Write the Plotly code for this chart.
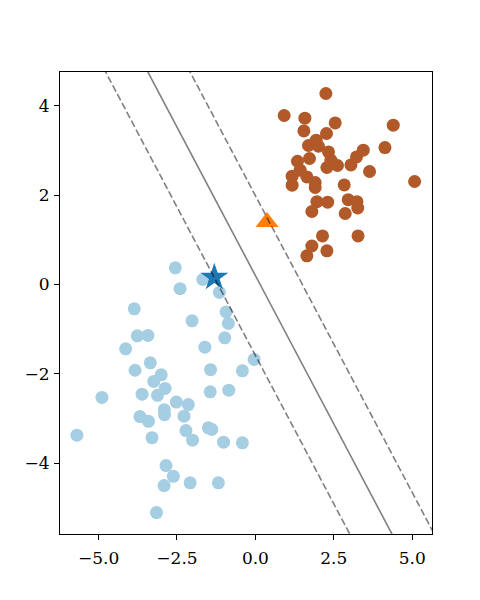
import plotly.graph_objects as go
import numpy as np

# class 0 (light blue) points
blue_x = [-2.553, -1.679, -2.403, -3.862, -2.020, -3.766, -3.428, -4.137, -1.612, -3.837,
          -3.351, -3.004, -3.240, -2.879, -1.430, -1.149, -0.935, -0.862, -0.977, -0.041,
          -0.415, -1.440, -0.849, -2.522, -2.139, -2.276, -2.905, -2.898, -2.215, -1.500,
          -1.392, -2.004, -1.015, -0.415, -2.850, -2.617, -2.081, -1.181, -2.911, -4.893,
          -3.613, -3.122, -3.680, -3.409, -3.297, -5.691, -3.154]
blue_y = [0.372, 0.112, -0.094, -0.546, -0.815, -1.151, -1.142, -1.442, -1.404, -1.922,
          -1.756, -2.025, -2.172, -2.329, -1.908, -0.179, -0.614, -0.873, -1.196, -1.680,
          -1.935, -2.405, -2.367, -2.634, -2.690, -2.950, -2.804, -2.916, -3.274, -3.212,
          -3.247, -3.487, -3.532, -3.548, -4.058, -4.298, -4.443, -4.443, -4.506, -2.531,
          -2.457, -2.484, -2.959, -3.066, -3.431, -3.375, -5.111]

# class 1 (brown) points
brown_x = [2.247, 0.916, 1.577, 1.545, 2.544, 4.395, 2.266, 1.937, 1.692, 2.011,
           2.330, 3.438, 3.224, 4.130, 1.724, 1.341, 2.407, 2.617, 2.279, 3.045,
           3.639, 1.427, 1.171, 1.641, 1.906, 1.171, 1.906, 2.831, 5.075, 1.960,
           2.304, 1.800, 2.959, 3.236, 3.262, 2.863, 2.139, 3.272, 1.800, 2.279, 1.641]
brown_y = [4.278, 3.785, 3.725, 3.440, 3.619, 3.568, 3.382, 3.232, 3.113, 3.097,
           2.970, 3.008, 2.858, 3.068, 2.822, 2.761, 2.784, 2.665, 2.620, 2.679,
           2.531, 2.560, 2.426, 2.410, 2.284, 2.224, 2.172, 2.231, 2.307, 1.854,
           1.843, 1.635, 1.899, 1.854, 1.713, 1.590, 1.088, 1.088, 0.862, 0.753, 0.641]

# new predicted points
star_pt = [-1.31, 0.16]
tri_pt = [0.37, 1.40]

# separating line y = slope*x + intercept, margins at +/- offset
line_slope = -1.33
line_intercept = 0.20
margin_offset = 1.79
levels = [-1, 0, 1]

x_range = [-6.23, 5.63]
y_range = [-5.59, 4.76]

fig = go.Figure()
fig.add_trace(go.Scatter(x=blue_x, y=blue_y, mode="markers",
                         marker=dict(color="#a6cee3", size=13, line=dict(width=0)),
                         showlegend=False))
fig.add_trace(go.Scatter(x=brown_x, y=brown_y, mode="markers",
                         marker=dict(color="#b15928", size=13, line=dict(width=0)),
                         showlegend=False))
fig.add_trace(go.Scatter(x=[star_pt[0]], y=[star_pt[1]], mode="markers",
                         marker=dict(symbol="star", color="#1f77b4", size=21, line=dict(width=0)),
                         showlegend=False))
fig.add_trace(go.Scatter(x=[tri_pt[0]], y=[tri_pt[1]], mode="markers",
                         marker=dict(symbol="triangle-up", color="#ff7f0e", size=20, line=dict(width=0)),
                         showlegend=False))

xx = np.array([x_range[0] - 1, x_range[1] + 1])
for lv in levels:
    yy = line_slope * xx + line_intercept + lv * margin_offset
    fig.add_trace(go.Scatter(x=xx, y=yy, mode="lines",
                             line=dict(color="rgba(0,0,0,0.5)", width=1.6,
                                       dash="solid" if lv == 0 else "7px,3px"),
                             showlegend=False, hoverinfo="skip"))

axis_common = dict(showgrid=False, zeroline=False, showline=True, mirror=True,
                   linecolor="black", linewidth=1.2, ticks="outside", ticklen=5,
                   tickwidth=1, tickcolor="black",
                   tickfont=dict(family="DejaVu Serif, serif", size=17, color="black"))

fig.update_xaxes(range=x_range, tickvals=[-5, -2.5, 0, 2.5, 5], tickformat=".1f",
                 ticklabelstandoff=3, **axis_common)
fig.update_yaxes(range=y_range, tickvals=[-4, -2, 0, 2, 4], tickformat="d",
                 ticklabelstandoff=1, **axis_common)

fig.update_layout(width=480, height=600,
                  margin=dict(l=60, r=48, t=72, b=66),
                  plot_bgcolor="white", paper_bgcolor="white")

fig.write_html("out.html")
